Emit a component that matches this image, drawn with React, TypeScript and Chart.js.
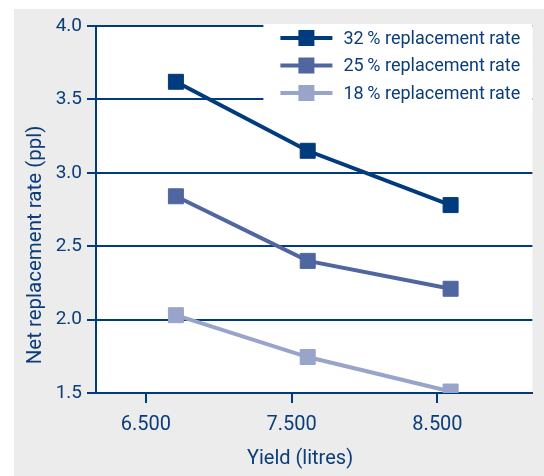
import React, { useEffect, useRef } from 'react';
import { Chart, registerables } from 'chart.js';

Chart.register(...registerables);

// ---- data ----
const yieldPositions = [6706, 7610, 8590];
const xTickValues = [6500, 7500, 8500];
const seriesLabels = ['32\u2009% replacement rate', '25\u2009% replacement rate', '18\u2009% replacement rate'];
const rate32 = [3.62, 3.15, 2.78];
const rate25 = [2.84, 2.4, 2.21];
const rate18 = [2.03, 1.745, 1.51];
const yTickValues = [1.5, 2.0, 2.5, 3.0, 3.5, 4.0];
const xTitle = 'Yield (litres)';
const yTitle = 'Net replacement rate (ppl)';

const seriesColors = ['#003b7d', '#4f66a0', '#98a4ca'];
const NAVY = '#003b7d';
const TEXT = '#0b3d7a';
const FONT = "Roboto, 'Open Sans', sans-serif";

const bgPlugin = {
  id: 'bgPlugin',
  beforeDraw(chart: any) {
    const { ctx, chartArea } = chart;
    ctx.save();
    ctx.fillStyle = '#ececec';
    ctx.fillRect(14, 9, chart.width - 14, chart.height - 9);
    ctx.fillStyle = '#ffffff';
    ctx.fillRect(chartArea.left, chartArea.top, chartArea.right - chartArea.left, chartArea.bottom - chartArea.top);
    ctx.restore();
  },
};

const legendPlugin = {
  id: 'customLegend',
  afterDraw(chart: any) {
    const { ctx, chartArea } = chart;
    const boxLeft = chartArea.right - 269;
    ctx.save();
    ctx.fillStyle = '#ffffff';
    ctx.fillRect(boxLeft, chartArea.top - 2, chartArea.right - boxLeft, 86);
    chart.data.datasets.forEach((ds: any, i: number) => {
      const y = chartArea.top + 12 + i * 27.5;
      const lx = boxLeft + 17;
      ctx.strokeStyle = ds.borderColor;
      ctx.lineWidth = 4;
      ctx.beginPath();
      ctx.moveTo(lx, y);
      ctx.lineTo(lx + 52, y);
      ctx.stroke();
      ctx.fillStyle = ds.pointBackgroundColor;
      ctx.fillRect(lx + 26 - 8, y - 8, 16, 16);
      ctx.fillStyle = TEXT;
      ctx.font = `18px ${FONT}`;
      ctx.textBaseline = 'middle';
      ctx.textAlign = 'left';
      ctx.fillText(ds.label, lx + 63, y + 1);
    });
    // axis titles
    ctx.fillStyle = TEXT;
    ctx.textAlign = 'center';
    ctx.textBaseline = 'middle';
    ctx.font = `20px ${FONT}`;
    ctx.fillText(xTitle, 300, 459);
    ctx.save();
    ctx.translate(36, 245);
    ctx.rotate(-Math.PI / 2);
    ctx.font = `20.5px ${FONT}`;
    ctx.fillText(yTitle, 0, 0);
    ctx.restore();
    ctx.restore();
  },
};

export default function App() {
  const ref = useRef<HTMLCanvasElement>(null);
  useEffect(() => {
    if (!ref.current) return;
    const mk = (label: string, vals: number[], color: string) => ({
      label,
      data: vals.map((v, i) => ({ x: yieldPositions[i], y: v })),
      borderColor: color,
      backgroundColor: color,
      pointBackgroundColor: color,
      pointBorderColor: color,
      pointBorderWidth: 1,
      pointStyle: 'rect',
      pointRadius: 10.6,
      borderWidth: 4,
      tension: 0,
    });
    const chart = new Chart(ref.current, {
      type: 'line',
      data: {
        datasets: [
          mk(seriesLabels[0], rate32, seriesColors[0]),
          mk(seriesLabels[1], rate25, seriesColors[1]),
          mk(seriesLabels[2], rate18, seriesColors[2]),
        ],
      },
      options: {
        responsive: false,
        animation: false,
        layout: { padding: { left: 18, top: 26, right: 11, bottom: 4 } },
        plugins: { legend: { display: false }, tooltip: { enabled: false } },
        scales: {
          x: {
            type: 'linear',
            min: 6158,
            max: 9151,
            afterBuildTicks: (s: any) => {
              s.ticks = xTickValues.map((v) => ({ value: v }));
            },
            afterFit: (s: any) => {
              s.height = 476 - 4 - 393;
            },
            ticks: {
              color: TEXT,
              font: { family: FONT, size: 20 },
              padding: 10,
              maxRotation: 0,
              callback: (v: any) => (Number(v) / 1000).toFixed(3),
            },
            grid: { drawOnChartArea: false, drawTicks: true, tickLength: 10, color: NAVY, lineWidth: 2 },
            border: { color: NAVY, width: 2 },
            title: { display: false },
          },
          y: {
            type: 'linear',
            min: 1.5,
            max: 4.0,
            afterBuildTicks: (s: any) => {
              s.ticks = yTickValues.map((v) => ({ value: v }));
            },
            afterFit: (s: any) => {
              s.width = 96 - 18;
            },
            ticks: {
              color: TEXT,
              font: { family: FONT, size: 19 },
              padding: 5,
              callback: (v: any) => Number(v).toFixed(1),
            },
            grid: { color: NAVY, lineWidth: 2, tickLength: 9 },
            border: { color: NAVY, width: 2 },
            title: { display: false },
          },
        },
      },
      plugins: [bgPlugin, legendPlugin],
    } as any);
    return () => chart.destroy();
  }, []);
  return (
    <div style={{ position: 'fixed', left: 0, top: 0, width: 544, height: 476 }}>
      <canvas ref={ref} width={544} height={476} style={{ width: 544, height: 476, display: 'block' }} />
    </div>
  );
}
